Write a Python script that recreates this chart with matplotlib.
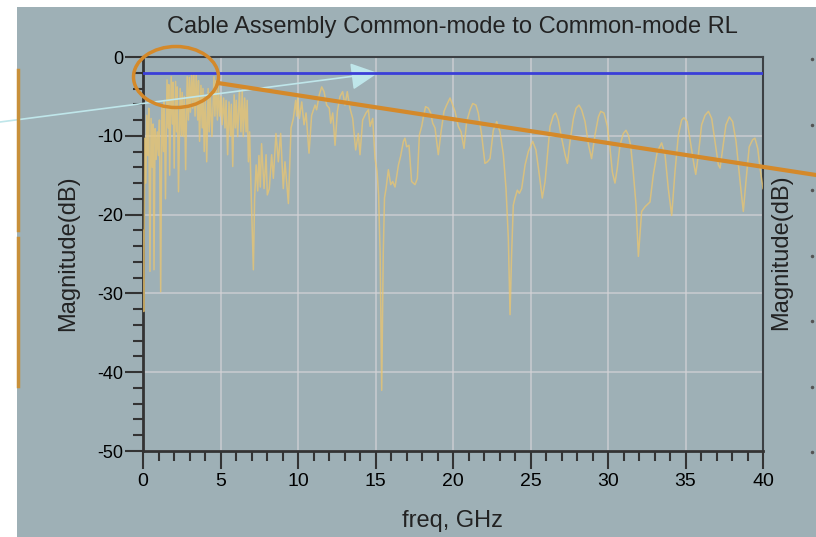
import numpy as np
import matplotlib
matplotlib.use("Agg")
import matplotlib.pyplot as plt
from matplotlib.patches import Ellipse, Rectangle
from matplotlib.lines import Line2D

plt.rcParams['font.family'] = ['Liberation Sans', 'DejaVu Sans']
plt.rcParams['axes.unicode_minus'] = False

# dati (freq in GHz, modulo in dB)
freq = [
    0.00, 0.05, 0.12, 0.18, 0.24, 0.31, 0.37, 0.45, 0.52, 0.60, 0.65, 0.71, 0.78, 0.85, 0.92,
    1.00, 1.06, 1.14, 1.22, 1.32, 1.37, 1.45, 1.55, 1.62, 1.66, 1.72, 1.82, 1.90, 1.94,
    2.01, 2.10, 2.17, 2.21, 2.29, 2.40, 2.48, 2.53, 2.60, 2.67, 2.75, 2.85, 2.93, 2.99,
    3.06, 3.14, 3.21, 3.28, 3.36, 3.43, 3.53, 3.58, 3.65, 3.74, 3.82, 3.87, 3.95,
    4.02, 4.11, 4.20, 4.27, 4.34, 4.45, 4.58, 4.64, 4.70, 4.80, 4.87, 4.95,
    5.03, 5.10, 5.20, 5.29, 5.36, 5.46, 5.55, 5.64, 5.70, 5.79, 5.88, 5.96,
    6.02, 6.11, 6.22, 6.32, 6.40, 6.47, 6.56, 6.65, 6.72, 6.80, 6.88, 6.96,
    7.05, 7.12, 7.20, 7.30, 7.40, 7.48, 7.57, 7.65, 7.81, 7.94,
    8.02, 8.15, 8.30, 8.41, 8.58, 8.73, 8.88, 9.05, 9.16, 9.38, 9.55, 9.70, 9.85, 9.92, 9.98,
    10.09, 10.24, 10.39, 10.52, 10.71, 10.88, 11.10, 11.20, 11.37, 11.53, 11.68, 11.85,
    12.02, 12.11, 12.24, 12.39, 12.54, 12.71, 12.88, 13.03, 13.18, 13.35, 13.53, 13.72, 13.89,
    14.00, 14.17, 14.39, 14.54, 14.65, 14.82, 14.97, 15.10, 15.20, 15.30, 15.40, 15.50, 15.58,
    15.68, 15.83, 15.98, 16.11, 16.26, 16.48, 16.62, 16.80, 16.90, 17.01, 17.16, 17.33, 17.55,
    17.70, 17.83, 17.98, 18.09, 18.23, 18.41, 18.56, 18.69, 18.84, 19.05, 19.23, 19.42, 19.59,
    19.81, 19.98, 20.13, 20.34, 20.52, 20.71, 20.88, 21.10, 21.27, 21.48, 21.63, 21.85,
    22.06, 22.22, 22.39, 22.60, 22.82, 23.03, 23.25, 23.42, 23.57, 23.68, 23.78, 23.89,
    24.00, 24.15, 24.28, 24.43, 24.65, 24.86, 25.14, 25.35, 25.51, 25.76, 25.94,
    26.11, 26.26, 26.48, 26.63, 26.79, 27.01, 27.23, 27.38, 27.55, 27.77, 27.94,
    28.13, 28.30, 28.52, 28.73, 28.94, 29.16, 29.38, 29.53, 29.74, 29.96,
    30.13, 30.28, 30.45, 30.60, 30.77, 30.99, 31.16, 31.31, 31.46, 31.63, 31.81, 31.96,
    32.17, 32.39, 32.71, 32.92, 33.18, 33.46, 33.68, 33.89, 34.11, 34.32, 34.54, 34.75, 34.90,
    35.11, 35.35, 35.55, 35.66, 35.83, 36.04, 36.26, 36.48, 36.69, 36.90, 37.12, 37.23,
    37.40, 37.61, 37.83, 38.04, 38.26, 38.52, 38.73, 38.90, 39.11, 39.33, 39.48, 39.66, 39.81, 40.00,
]
mag_db = [
    -22.0, -32.3, -10.3, -16.0, -7.4, -12.5, -6.5, -27.2, -7.8, -14.0, -8.5, -27.0, -9.1, -13.0, -9.5,
    -12.5, -8.0, -29.8, -6.1, -12.0, -5.5, -18.0, -2.9, -9.0, -3.5, -15.0, -2.5, -8.5, -3.2,
    -14.1, -3.1, -9.5, -3.8, -17.1, -4.0, -10.0, -4.5, -10.1, -5.0, -14.3, -2.5, -8.0, -2.6,
    -7.0, -2.0, -6.5, -2.0, -7.5, -2.3, -8.0, -3.0, -10.7, -3.6, -9.0, -4.0, -12.0,
    -5.0, -13.3, -4.0, -9.5, -4.5, -10.1, -2.5, -7.5, -3.0, -8.0, -3.6, -7.5,
    -5.0, -8.6, -5.2, -9.0, -5.5, -12.4, -5.7, -10.0, -6.0, -13.9, -4.8, -9.0,
    -5.5, -10.1, -4.2, -9.5, -4.2, -10.1, -5.2, -9.5, -5.5, -13.3, -9.5, -16.0,
    -22.0, -27.0, -18.0, -13.7, -17.0, -12.5, -16.5, -11.0, -16.7, -12.4,
    -17.5, -16.7, -12.4, -15.4, -9.7, -13.3, -9.7, -16.7, -13.3, -18.6, -9.0, -7.8, -5.5, -7.5, -5.2,
    -7.8, -5.7, -8.6, -7.1, -12.2, -7.4, -6.1, -6.7, -4.8, -3.8, -4.4, -6.1,
    -6.5, -8.4, -7.1, -11.2, -6.9, -5.0, -4.4, -6.1, -4.4, -6.5, -7.8, -11.8, -9.7,
    -12.4, -8.0, -7.1, -6.7, -8.8, -7.8, -12.9, -14.5, -17.5, -25.0, -42.3, -25.0, -17.9,
    -16.7, -14.3, -16.2, -15.8, -16.5, -13.7, -12.6, -10.7, -10.3, -11.4, -11.2, -15.8, -16.2,
    -15.4, -9.9, -8.8, -7.6, -6.3, -6.5, -7.1, -8.4, -9.0, -12.4, -9.5, -6.9, -6.1,
    -5.2, -6.1, -6.9, -8.8, -9.5, -11.6, -8.2, -6.7, -5.9, -6.1, -7.1, -9.9,
    -13.5, -13.3, -12.9, -9.3, -8.2, -9.5, -12.4, -16.7, -23.0, -32.7, -25.1, -18.8,
    -17.9, -16.9, -17.3, -16.7, -13.7, -12.0, -10.7, -11.8, -14.1, -17.9, -15.8,
    -12.0, -8.8, -7.4, -7.1, -8.0, -10.3, -12.4, -13.5, -10.7, -7.8, -6.5,
    -6.1, -6.7, -8.2, -11.0, -12.9, -9.9, -7.6, -6.9, -7.1, -8.8,
    -11.6, -14.6, -16.0, -14.1, -11.2, -9.7, -9.3, -9.9, -11.2, -14.6, -18.8, -25.3,
    -19.6, -19.0, -18.4, -15.0, -12.0, -10.9, -12.4, -16.7, -20.1, -14.6, -9.9, -8.0, -7.7,
    -8.2, -11.2, -13.7, -14.9, -12.4, -8.6, -7.4, -6.9, -7.8, -10.7, -13.7, -14.1,
    -11.6, -8.6, -7.6, -8.2, -10.7, -15.8, -19.6, -15.8, -11.4, -10.5, -10.3, -11.6, -14.1, -16.7,
]
limit_db = -2.0
limit_freq = [0, 40]

bg = '#9eb0b6'
W, H = 816, 537

fig = plt.figure(figsize=(W / 100, H / 100), dpi=100, facecolor='white')
# fondo grigio (striscia bianca a sinistra e in alto come nello screenshot)
fig.patches.append(Rectangle((17 / W, 0), 1 - 17 / W, 1 - 7 / H, transform=fig.transFigure,
                             facecolor=bg, edgecolor='none', zorder=-5))

ax = fig.add_axes([143 / W, 1 - 451 / H, 620 / W, 394 / H])
ax.set_facecolor(bg)

ax.plot(freq, mag_db, color='#ecc66e', lw=1.1, alpha=0.75, zorder=3)
ax.plot(limit_freq, [limit_db, limit_db], color='#3a3ed8', lw=2, zorder=4)

ax.set_xlim(0, 40)
ax.set_ylim(-50, 0)
ax.set_xticks(np.arange(0, 41, 5))
ax.set_xticks(np.arange(0, 41, 1), minor=True)
ax.set_yticks(np.arange(-50, 1, 10))
ax.set_yticks(np.arange(-50, 1, 2), minor=True)
ax.tick_params(which='major', direction='out', length=13, width=1.5, color='#333333', pad=3)
ax.tick_params(which='minor', direction='out', length=7, width=1.5, color='#333333')
ax.tick_params(axis='x', which='major', labelsize=14)
ax.tick_params(axis='y', which='major', labelsize=13, pad=1)
ax.grid(True, which='major', color='#d4d2d6', lw=1.2, alpha=0.75)
ax.set_axisbelow(True)
for s in ['left', 'bottom']:
    ax.spines[s].set_linewidth(2)
    ax.spines[s].set_color('#333333')
for s in ['top', 'right']:
    ax.spines[s].set_linewidth(1.5)
    ax.spines[s].set_color('#3c4044')

fig.text(452 / W, 1 - 27 / H, 'Cable Assembly Common-mode to Common-mode RL',
         ha='center', va='center', fontsize=17, color='#222222')
fig.text(452 / W, 1 - 521 / H, 'freq, GHz', ha='center', va='center', fontsize=17, color='#222222')
fig.text(68 / W, 1 - 253 / H, 'Magnitude(dB)', ha='center', va='center', rotation=90,
         fontsize=17, color='#222222')
fig.text(781 / W, 1 - 252 / H, 'Magnitude(dB)', ha='center', va='center', rotation=90,
         fontsize=17, color='#222222')

# puntini dell'asse destro tagliato
for yp in [59, 125, 190, 256, 321, 387, 452]:
    fig.add_artist(Line2D([812 / W], [1 - yp / H], marker='o', ms=1.5, color='#555555',
                          transform=fig.transFigure))

# annotazioni arancioni
orange = '#d4892a'
fig.add_artist(Ellipse((176 / W, 1 - 77 / H), 85 / W, 61 / H, transform=fig.transFigure,
                       fill=False, edgecolor=orange, lw=2.5))
fig.add_artist(Line2D([218 / W, 1.0], [1 - 83 / H, 1 - 175 / H], color=orange, lw=3,
                      transform=fig.transFigure))
fig.add_artist(Line2D([17.5 / W, 17.5 / W], [1 - 70 / H, 1 - 230 / H], color='#c8903a', lw=2.5,
                      transform=fig.transFigure))
fig.add_artist(Line2D([17.5 / W, 17.5 / W], [1 - 238 / H, 1 - 386 / H], color='#c8903a', lw=2.5,
                      transform=fig.transFigure))

# freccia azzurra
ax.annotate('', xy=(378, H - 73), xytext=(0, H - 122), xycoords='figure pixels',
            textcoords='figure pixels',
            arrowprops=dict(arrowstyle='-|>,head_length=1.0,head_width=0.5', color='#bfe6ea',
                            lw=1.2, mutation_scale=17, shrinkA=0, shrinkB=0))

fig.savefig('out.png', dpi=100, facecolor=fig.get_facecolor())
